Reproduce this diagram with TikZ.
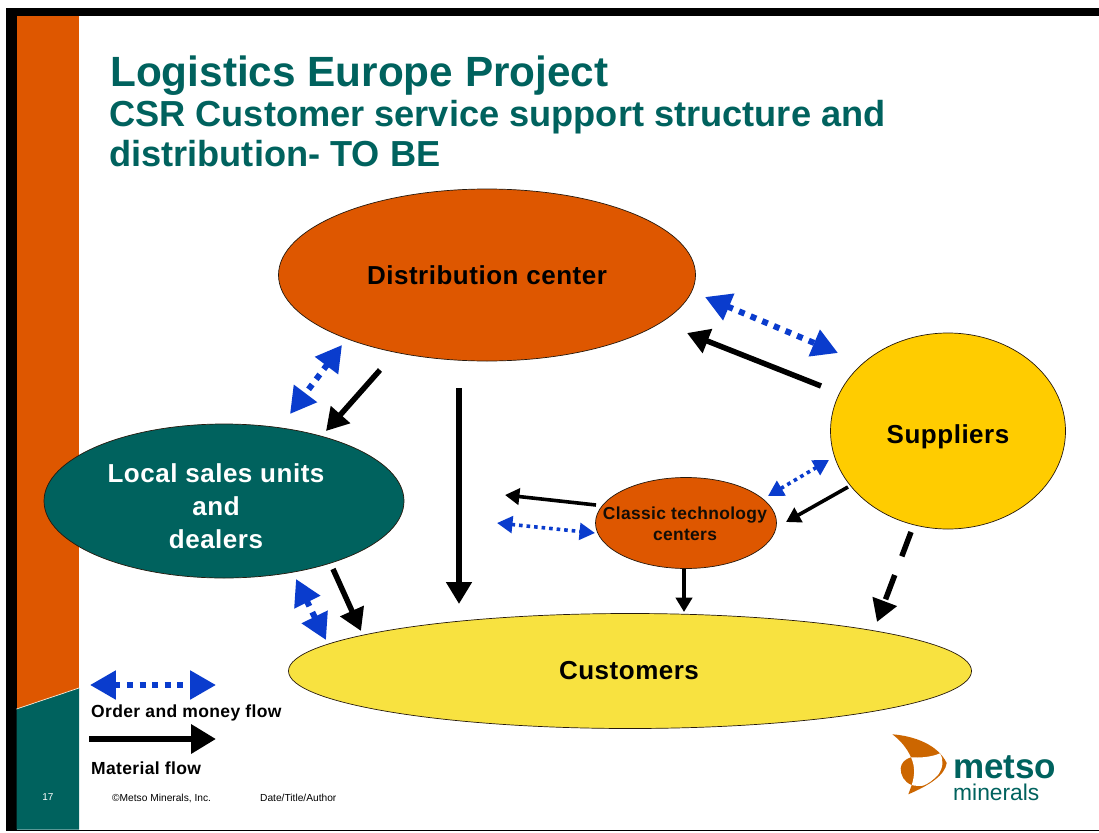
\documentclass[tikz,border=0pt]{standalone}
\usepackage{fontspec}
\setmainfont{Liberation Sans}
\newfontfamily\widefont[LetterSpace=2]{Liberation Sans}
\usetikzlibrary{arrows.meta,shapes.geometric}
\definecolor{mteal}{RGB}{0,98,94}
\definecolor{morange}{RGB}{222,87,0}
\definecolor{mgold}{RGB}{255,204,0}
\definecolor{myellow}{RGB}{248,226,64}
\definecolor{mblue}{RGB}{10,60,205}
\definecolor{mlogo}{RGB}{204,102,0}
\newcommand{\fs}[1]{\fontsize{#1}{#1}\selectfont}
\tikzset{
  bubble/.style={draw=black!80!brown,line width=0.7pt,ellipse,inner sep=0pt},
  bubbletext/.style={inner sep=0pt,align=center,font=\fs{26}\widefont\bfseries},
  matflow/.style={draw=black,-{Triangle[length=#1*4pt,width=#1*4.5pt]},line width=#1 pt},
  orderflow/.style={draw=mblue,{Triangle[length=#1*4.3pt,width=#1*4.6pt]}-{Triangle[length=#1*4.3pt,width=#1*4.6pt]},line width=#1 pt,dash pattern=on #1 pt off #1*1.1 pt},
  label/.style={inner sep=0pt,font=\bfseries},
  legendtext/.style={inner sep=0pt,anchor=base west,font=\fs{17.5}\widefont\bfseries},
  foot/.style={inner sep=0pt,anchor=base west,font=\fs{10.2}}
}
\begin{document}
\begin{tikzpicture}[x=1pt,y=-1pt]
\useasboundingbox (0,0) rectangle (1099,832);
% frame
\fill[white] (0,0) rectangle (1099,832);
\fill[black] (6,8) rectangle (1099,16.5);
\fill[black] (6,8) rectangle (16.5,831);
\fill[black] (6,829.7) rectangle (1099,831);
% side band
\fill[morange] (16.5,16.5) rectangle (79,709);
\fill[mteal] (16.5,709) -- (79,688) -- (79,829.7) -- (16.5,829.7) -- cycle;
\draw[white!85!orange,line width=0.7pt] (16.5,709) -- (79,688);
% title
\node[label,anchor=base west,text=mteal] (t1) at (110,87) {\fs{42.3}Logistics Europe Project};
\node[label,anchor=base west,text=mteal] (t2) at (109,127) {\fs{36.2}CSR Customer service support structure and};
\node[label,anchor=base west,text=mteal] (t3) at (109,166) {\fs{36.2}distribution- TO BE};
% bubbles
\node[bubble,fill=morange,minimum width=417pt,minimum height=172pt] (dc) at (487,275) {};
\node[bubble,fill=mgold,minimum width=235pt,minimum height=196pt] (sup) at (948,431) {};
\node[bubble,fill=mteal,minimum width=360pt,minimum height=154pt] (lsu) at (224,501) {};
\node[bubble,fill=morange,minimum width=181pt,minimum height=91pt] (ctc) at (686,523) {};
\node[bubble,fill=myellow,minimum width=683pt,minimum height=115pt] (cus) at (630,671) {};
\node[bubbletext] (dct) at (487,275) {Distribution center};
\node[bubbletext] (supt) at (948,437) {Suppliers};
\node[bubbletext,text=white] (lsut) at (216,506) {Local sales units\\[7pt]and\\[7pt]dealers};
\node[inner sep=0pt,align=center,font=\fs{17.4}\widefont\bfseries,text=black!90!brown] (ctct) at (685,524) {Classic technology\\[4pt]centers};
\node[bubbletext] (cust) at (629,671) {Customers};
% connector ends
\coordinate (a1) at (821,386); \coordinate (a2) at (687,333);
\coordinate (b1) at (705,297); \coordinate (b2) at (838,353);
\coordinate (c1) at (380,370); \coordinate (c2) at (326,431);
\coordinate (d1) at (342,345); \coordinate (d2) at (290,414);
\coordinate (e1) at (459,388); \coordinate (e2) at (459,604);
\coordinate (f1) at (333,569); \coordinate (f2) at (361,631);
\coordinate (g1) at (296,579); \coordinate (g2) at (326,640);
\coordinate (h1) at (596,505); \coordinate (h2) at (505,495);
\coordinate (i1) at (497,523); \coordinate (i2) at (595,533);
\coordinate (j1) at (829,460); \coordinate (j2) at (768,496);
\coordinate (k1) at (848,487); \coordinate (k2) at (786,522);
\coordinate (l1) at (684,569); \coordinate (l2) at (684,612);
\coordinate (m1) at (911,532); \coordinate (m2) at (877,622);
\coordinate (n1) at (90,685); \coordinate (n2) at (216,685);
\coordinate (o1) at (89,739); \coordinate (o2) at (216,739);
% connectors
\draw[matflow=5.5] (a1) -- (a2);
\draw[orderflow=6] (b1) -- (b2);
\draw[matflow=5.5] (c1) -- (c2);
\draw[orderflow=6] (d1) -- (d2);
\draw[matflow=5.5] (e1) -- (e2);
\draw[matflow=5.5] (f1) -- (f2);
\draw[orderflow=6] (g1) -- (g2);
\draw[matflow=3.6] (h1) -- (h2);
\draw[orderflow=3.6] (i1) -- (i2);
\draw[orderflow=3.6] (j1) -- (j2);
\draw[matflow=3.6] (k1) -- (k2);
\draw[matflow=3.6] (l1) -- (l2);
\draw[matflow=5.5,dash pattern=on 26pt off 20pt] (m1) -- (m2);
% legend
\draw[orderflow=6] (n1) -- (n2);
\draw[matflow=6.2] (o1) -- (o2);
\node[legendtext] (l3) at (91,717) {Order and money flow};
\node[legendtext] (l4) at (91,774) {Material flow};
% footer
\node[inner sep=0pt,text=white] (pg) at (48,797) {\fs{10}17};
\node[foot] (cp) at (112,801) {©Metso Minerals, Inc.};
\node[foot] (da) at (260,801) {Date/Title/Author};
% logo
\fill[mlogo] (892.3,734.3) .. controls (915,736) and (938,745) .. (946.7,763) .. controls (945,775) and (930,785) .. (908.3,794.3) -- (911.7,785) .. controls (904,782) and (900.5,775) .. (900.7,768.3) .. controls (901,763) and (905,759) .. (911,757.3) .. controls (907,748) and (900,740) .. (892.3,734.3) -- cycle;
\fill[white] (911,757.3) .. controls (920,758) and (932,757) .. (940,753.3) .. controls (944,760) and (943,768) .. (938,775) .. controls (933,780) and (928,784) .. (923,785.7) .. controls (919,786) and (915,786) .. (911.7,785) .. controls (915,775) and (915,766) .. (911,757.3) -- cycle;
\node[label,anchor=base west,text=mteal] (lg1) at (953,778) {\fs{35}metso};
\node[inner sep=0pt,anchor=base west,text=mteal] (lg2) at (953,800) {\fs{22.8}minerals};
\end{tikzpicture}
\end{document}
